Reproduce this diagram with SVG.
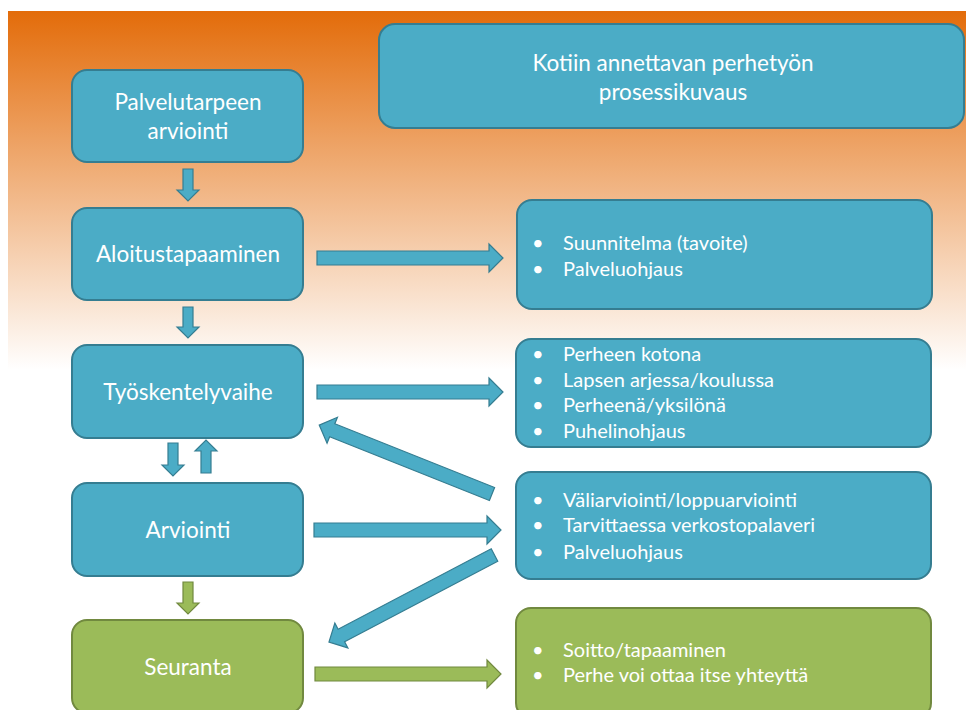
<svg xmlns="http://www.w3.org/2000/svg" width="966" height="710" viewBox="0 0 966 710">
<defs>
<linearGradient id="bg" x1="0" y1="11" x2="0" y2="370" gradientUnits="userSpaceOnUse">
<stop offset="0" stop-color="#e36c0a"/>
<stop offset="1" stop-color="#ffffff"/>
</linearGradient>
<style>
.b{fill:#4bacc6;stroke:#357d91;stroke-width:2}
.g{fill:#9bbb59;stroke:#71893f;stroke-width:2}
.ab{fill:#4bacc6;stroke:#357d91;stroke-width:1.2}
.ag{fill:#9bbb59;stroke:#71893f;stroke-width:1.2}
text{font-family:Lato,"Liberation Sans",sans-serif;fill:#ffffff}
.c{font-size:22.5px;text-anchor:middle}
.l{font-size:20px}
</style>
</defs>
<rect x="0" y="0" width="966" height="710" fill="#ffffff"/>
<rect x="8" y="11" width="958" height="380" fill="url(#bg)"/>

<g id="title">
<rect class="b" x="379" y="24" width="585" height="104" rx="16"/>
<text class="c" x="673" y="71">Kotiin annettavan perhetyön</text>
<text class="c" x="673" y="100">prosessikuvaus</text>
</g>

<g id="n1">
<rect class="b" x="72" y="70" width="231" height="92" rx="15"/>
<text class="c" x="188" y="110">Palvelutarpeen</text>
<text class="c" x="188" y="139">arviointi</text>
</g>
<g id="n2">
<rect class="b" x="72" y="208" width="231" height="92" rx="15"/>
<text class="c" x="188" y="262">Aloitustapaaminen</text>
</g>
<g id="n3">
<rect class="b" x="72" y="345" width="231" height="93" rx="15"/>
<text class="c" x="188" y="400">Työskentelyvaihe</text>
</g>
<g id="n4">
<rect class="b" x="72" y="483" width="231" height="93" rx="15"/>
<text class="c" x="188" y="538">Arviointi</text>
</g>
<g id="n5">
<rect class="g" x="72" y="620" width="231" height="93" rx="15"/>
<text class="c" x="188" y="675">Seuranta</text>
</g>

<g id="r1">
<rect class="b" x="517" y="200" width="415" height="109" rx="15"/>
<text class="l" x="532" y="250">•</text><text class="l" x="563" y="250">Suunnitelma (tavoite)</text>
<text class="l" x="532" y="276">•</text><text class="l" x="563" y="276">Palveluohjaus</text>
</g>
<g id="r2">
<rect class="b" x="516" y="339" width="415" height="108" rx="15"/>
<text class="l" x="532" y="361">•</text><text class="l" x="563" y="361">Perheen kotona</text>
<text class="l" x="532" y="387">•</text><text class="l" x="563" y="387">Lapsen arjessa/koulussa</text>
<text class="l" x="532" y="412">•</text><text class="l" x="563" y="412">Perheenä/yksilönä</text>
<text class="l" x="532" y="438">•</text><text class="l" x="563" y="438">Puhelinohjaus</text>
</g>
<g id="r3">
<rect class="b" x="516" y="472" width="415" height="107" rx="15"/>
<text class="l" x="532" y="507">•</text><text class="l" x="563" y="507">Väliarviointi/loppuarviointi</text>
<text class="l" x="532" y="532">•</text><text class="l" x="563" y="532">Tarvittaessa verkostopalaveri</text>
<text class="l" x="532" y="559">•</text><text class="l" x="563" y="559">Palveluohjaus</text>
</g>
<g id="r4">
<rect class="g" x="516" y="608" width="415" height="110" rx="15"/>
<text class="l" x="532" y="657">•</text><text class="l" x="563" y="657">Soitto/tapaaminen</text>
<text class="l" x="532" y="682">•</text><text class="l" x="563" y="682">Perhe voi ottaa itse yhteyttä</text>
</g>

<g id="connectors">
<polygon class="ab" points="183,169 193,169 193,190 199,190 188,201 177,190 183,190"/>
<polygon class="ab" points="183,307 193,307 193,327 199,327 188,338 177,327 183,327"/>
<polygon class="ab" points="168,443 178,443 178,465 184,465 173,476 162,465 168,465"/>
<polygon class="ab" points="201,473 211,473 211,451 217,451 206,440 195,451 201,451"/>
<polygon class="ag" points="183,582 193,582 193,603 199,603 188,614 177,603 183,603"/>
<polygon class="ab" points="317,251 489,251 489,244 503,258 489,272 489,265 317,265"/>
<polygon class="ab" points="317,385 489,385 489,378 503,392 489,406 489,399 317,399"/>
<polygon class="ab" points="314,523 487,523 487,516 501,530 487,544 487,537 314,537"/>
<polygon class="ag" points="315,667 487,667 487,660 501,674 487,688 487,681 315,681"/>
<polygon class="ab" transform="translate(492,494) rotate(201.75)" points="0,-7 172,-7 172,-14 186,0 172,14 172,7 0,7"/>
<polygon class="ab" transform="translate(494.5,555) rotate(152.27)" points="0,-7 173,-7 173,-14 187,0 173,14 173,7 0,7"/>
</g>
</svg>
